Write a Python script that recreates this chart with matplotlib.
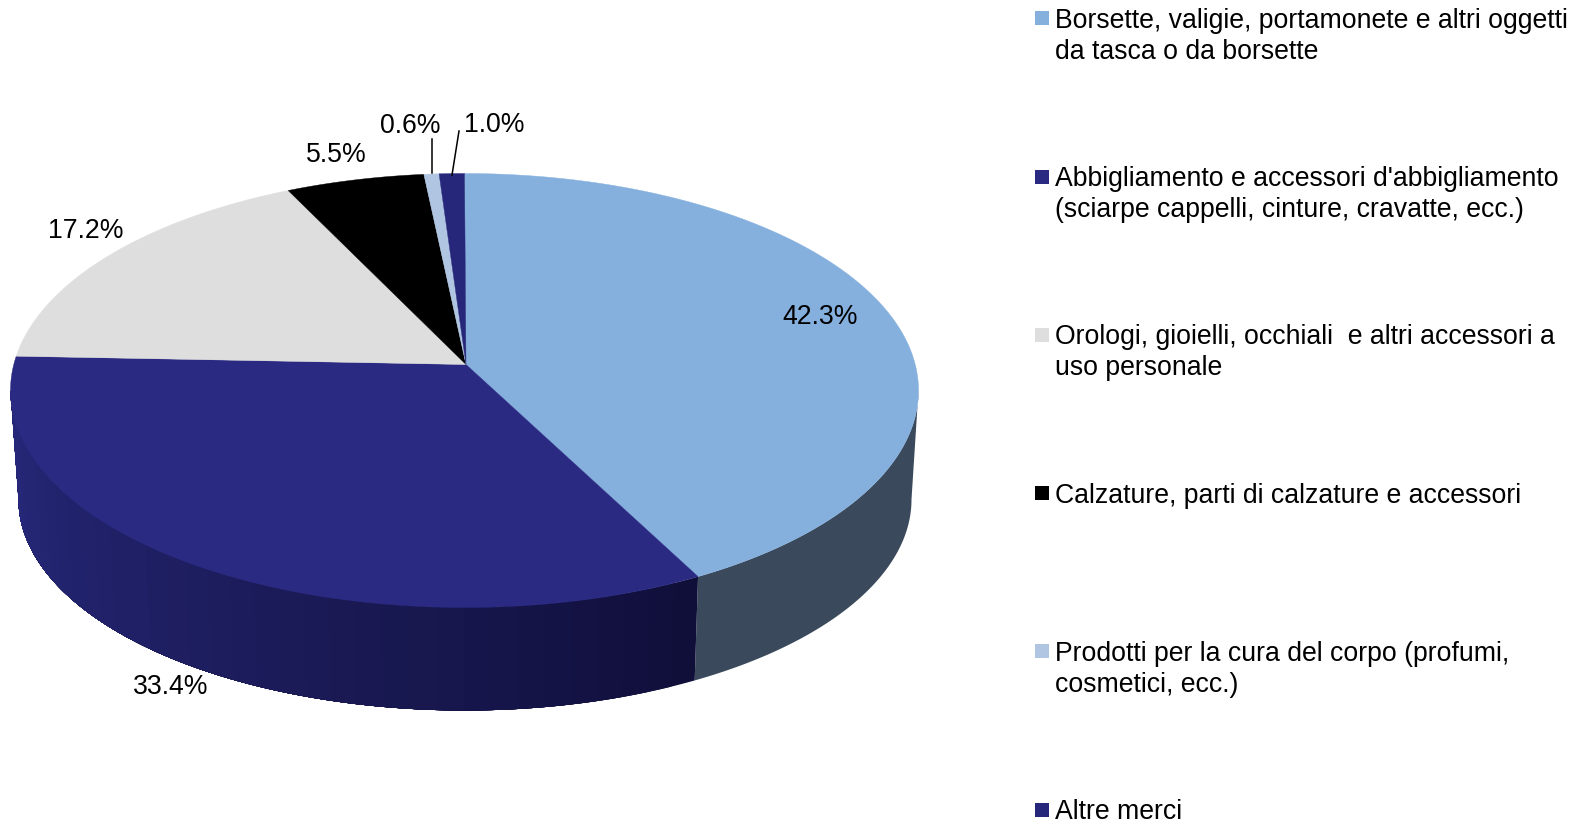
import numpy as np
import matplotlib
matplotlib.use("Agg")
import matplotlib.pyplot as plt

# ------------------------
# Data
# ------------------------
categories = [
    "Borsette, valigie, portamonete e altri oggetti\nda tasca o da borsette",
    "Abbigliamento e accessori d'abbigliamento\n(sciarpe cappelli, cinture, cravatte, ecc.)",
    "Orologi, gioielli, occhiali  e altri accessori a\nuso personale",
    "Calzature, parti di calzature e accessori",
    "Prodotti per la cura del corpo (profumi,\ncosmetici, ecc.)",
    "Altre merci",
]
shares = [42.3, 33.4, 17.2, 5.5, 0.6, 1.0]

# ------------------------
# Styles and layout (pixels of the 1573x820 image)
# ------------------------
colors = ["#85B0DE", "#2A2A82", "#DEDEDE", "#000000", "#AFC5E2", "#26277A"]
label_xy = [(820, 317), (170.5, 687), (86, 231), (336.5, 155), (410, 126), (494, 125)]

TOP = dict(cx=464.5, cy=391.5, rx=454, ry=217)
BOTTOM = dict(cx=465, cy=500.5, rx=446.5, ry=211)
PERSPECTIVE = 0.115  # shifts the pie centre up the ellipse
APEX = (466, 365.5)

plt.rcParams["font.family"] = ["Liberation Sans", "DejaVu Sans"]
FONT = 19.15


def rim(theta, e):
    """Rim point for a clockwise angle from 12 o'clock, with perspective."""
    x, y = np.sin(theta), np.cos(theta)
    d = 1 + PERSPECTIVE * y
    u = x * np.sqrt(1 - PERSPECTIVE ** 2) / d
    v = (y + PERSPECTIVE) / d
    return e["cx"] + e["rx"] * u, e["cy"] - e["ry"] * v


def side(ax, t0, t1, color):
    t = np.linspace(t0, t1, 120)
    xt, yt = rim(t, TOP)
    xb, yb = rim(t, BOTTOM)
    ax.fill(np.r_[xt, xb[::-1]], np.r_[yt, yb[::-1]], color=color, lw=0)


fig = plt.figure(figsize=(15.73, 8.2), dpi=100)
ax = fig.add_axes([0, 0, 1, 1])
ax.set_xlim(0, 1573)
ax.set_ylim(820, 0)
ax.axis("off")

edges = np.cumsum([0] + shares) / sum(shares) * 2 * np.pi

# angle where the rim is at its far left / right
side_right = np.arccos(-PERSPECTIVE)
side_left = 2 * np.pi - side_right

# ------------------------
# Pie wall
# ------------------------
side(ax, side_right, edges[1], "#3A4A5C")

# dark blue wall: stepped gradient, lighter on the left
# every step runs to the far end so no seams show between them
steps = 36
wall = np.linspace(edges[1], side_left, steps + 1)
dark = np.array(matplotlib.colors.to_rgb("#100E38"))
light = np.array(matplotlib.colors.to_rgb("#27297C"))
for i in range(steps):
    f = (i + 0.5) / steps
    side(ax, wall[i], wall[-1], dark + (light - dark) * f ** 0.9)

# ------------------------
# Pie top
# ------------------------
for t0, t1, c in zip(edges[:-1], edges[1:], colors):
    t = np.linspace(t0, t1, 200)
    x, y = rim(t, TOP)
    ax.fill(np.r_[APEX[0], x], np.r_[APEX[1], y], color=c, lw=0.3)

# ------------------------
# Percent labels and leader lines
# ------------------------
for v, (x, y) in zip(shares, label_xy):
    ax.text(x, y, f"{v:.1f}%", fontsize=FONT, ha="center", va="center", color="black")

ax.plot([432, 432], [174, 140], color="black", lw=1.1)
ax.plot([452, 459], [176, 132], color="black", lw=1.1)

# ------------------------
# Legend
# ------------------------
for i, (name, c) in enumerate(zip(categories, colors)):
    y0 = 27.7 + 158.3 * i
    ax.scatter([1042], [y0 - 8.5], marker="s", s=100, color=c, linewidths=0, clip_on=False)
    for j, line in enumerate(name.split("\n")):
        ax.text(1055, y0 + 31 * j, line, fontsize=FONT, ha="left", va="baseline", color="black")

fig.savefig("out.png", dpi=100, facecolor="white")
